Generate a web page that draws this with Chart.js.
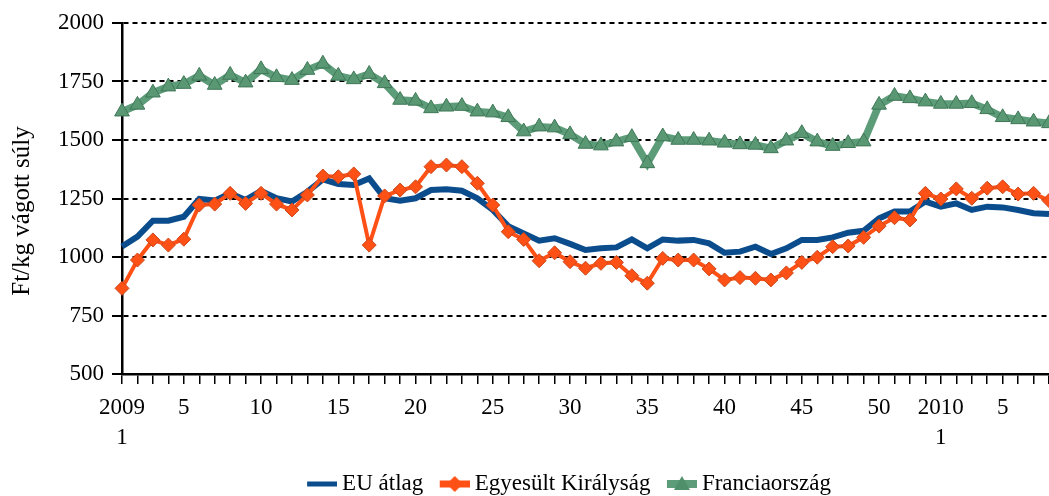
<!DOCTYPE html>
<html>
<head>
<meta charset="utf-8">
<script src="https://cdn.jsdelivr.net/npm/chart.js@4.4.1/dist/chart.umd.min.js"></script>
<style>
  html, body { margin: 0; padding: 0; background: #fff; }
  #wrap { width: 1049px; height: 496px; position: relative; }
</style>
</head>
<body>
<div id="wrap"><canvas id="chart"></canvas></div>
<script>
// hetek: 2009 1-53, 2010 1-8
const weeks = [
  1, 2, 3, 4, 5, 6, 7, 8, 9, 10, 11, 12, 13, 14, 15, 16, 17, 18, 19, 20,
  21, 22, 23, 24, 25, 26, 27, 28, 29, 30, 31, 32, 33, 34, 35, 36, 37, 38, 39, 40,
  41, 42, 43, 44, 45, 46, 47, 48, 49, 50, 51, 52, 53,
  1, 2, 3, 4, 5, 6, 7, 8
];
const years = [2009, 2010];

const euAtlag = [
  1045, 1087, 1155, 1155, 1172, 1248, 1241, 1272, 1244, 1283,
  1251, 1237, 1279, 1332, 1312, 1308, 1336, 1251, 1241, 1251,
  1286, 1289, 1283, 1251, 1201, 1132, 1101, 1070, 1080, 1056,
  1030, 1037, 1041, 1075, 1037, 1075, 1070, 1073, 1058, 1018,
  1023, 1044, 1013, 1037, 1073, 1073, 1084, 1104, 1112, 1165,
  1194, 1194, 1237,
  1215, 1229, 1201, 1215, 1212, 1201, 1187, 1184
];
const egyesultKiralysag = [
  866, 987, 1073, 1051, 1076, 1222, 1226, 1272, 1229, 1272,
  1226, 1201, 1265, 1346, 1343, 1355, 1051, 1261, 1286, 1300,
  1386, 1393, 1386, 1315, 1222, 1108, 1075, 984, 1018, 980,
  952, 973, 977, 920, 888, 994, 987, 987, 949, 902,
  912, 909, 902, 932, 977, 999, 1044, 1047, 1084, 1132,
  1168, 1158, 1272,
  1248, 1291, 1251, 1294, 1300, 1269, 1272, 1241
];
const franciaorszag = [
  1621, 1650, 1702, 1728, 1739, 1774, 1735, 1778, 1745, 1802,
  1768, 1756, 1799, 1826, 1774, 1759, 1782, 1742, 1671, 1667,
  1635, 1642, 1645, 1621, 1617, 1597, 1536, 1557, 1553, 1524,
  1483, 1476, 1493, 1512, 1400, 1515, 1500, 1500, 1497, 1488,
  1481, 1479, 1464, 1497, 1529, 1493, 1474, 1486, 1493, 1650,
  1688, 1678, 1664,
  1654, 1654, 1657, 1631, 1597, 1588, 1578, 1571
];

const FONT = "'Liberation Serif', 'Times New Roman', serif";
const BLUE = "#0b4c8c";
const ORANGE = "#ff5015";
const GREEN = "#5c9c78";

// legend marker: line + point on a small canvas (21px empty margin on the left)
function legendIcon(color, lineW, marker) {
  const m = 21;
  const c = document.createElement("canvas");
  c.width = m + 30;
  c.height = 20;
  const g = c.getContext("2d");
  g.fillStyle = color;
  g.fillRect(m, 10 - lineW / 2, 30, lineW);
  const cx = m + 15, cy = 10;
  if (marker === "diamond") {
    g.beginPath();
    g.moveTo(cx, cy - 8); g.lineTo(cx + 8, cy); g.lineTo(cx, cy + 8); g.lineTo(cx - 8, cy);
    g.closePath();
    g.fill();
  } else if (marker === "triangle") {
    g.beginPath();
    g.moveTo(cx, cy - 8); g.lineTo(cx + 8, cy + 6); g.lineTo(cx - 8, cy + 6);
    g.closePath();
    g.fillStyle = "#4f8f6a";
    g.fill();
  }
  return c;
}

const icons = [
  legendIcon(BLUE, 5, null),
  legendIcon(ORANGE, 7, "diamond"),
  legendIcon(GREEN, 8, "triangle")
];

function tickText(index) {
  const w = weeks[index];
  if (w === 1) {
    const yi = weeks.slice(0, index + 1).filter(v => v === 1).length - 1;
    return [String(years[yi]), "1"];
  }
  return w % 5 === 0 ? String(w) : "";
}

// put the legend where the original has it (centre x 569, text centre y 484)
const legendPlace = {
  id: "legendPlace",
  afterLayout(chart) {
    const l = chart.legend;
    const pad = l.options.labels.padding;
    const lw = l.lineWidths[0];
    const startX = (l.left + pad + l.right - lw) / 2;
    const visCenter = startX + (14.5 + lw - pad) / 2;
    const dx = 569 - visCenter;
    l.left += dx; l.right += dx;
    const dy = 484 - (l.top + pad + l.options.labels.font.size / 2);
    l.top += dy; l.bottom += dy;
  }
};

new Chart(document.getElementById("chart"), {
  type: "line",
  data: {
    labels: weeks.map(String),
    datasets: [
      {
        label: "EU átlag",
        data: euAtlag,
        borderColor: BLUE,
        backgroundColor: BLUE,
        borderWidth: 6,
        pointRadius: 0,
        order: 1
      },
      {
        label: "Egyesült Királyság",
        data: egyesultKiralysag,
        borderColor: ORANGE,
        backgroundColor: ORANGE,
        borderWidth: 4,
        pointStyle: "rectRot",
        pointRadius: 7,
        pointBackgroundColor: ORANGE,
        pointBorderColor: "#c9481c",
        pointBorderWidth: 1,
        order: 0
      },
      {
        label: "Franciaország",
        data: franciaorszag,
        borderColor: GREEN,
        backgroundColor: GREEN,
        borderWidth: 7.5,
        pointStyle: "triangle",
        pointRadius: 8.5,
        pointBackgroundColor: "#5a9874",
        pointBorderColor: "#3f7757",
        pointBorderWidth: 1,
        order: 2
      }
    ]
  },
  plugins: [legendPlace],
  options: {
    responsive: true,
    maintainAspectRatio: false,
    animation: false,
    layout: { autoPadding: false, padding: { top: 23, right: 0, bottom: 0, left: 0 } },
    elements: { line: { tension: 0 } },
    scales: {
      x: {
        offset: false,
        afterFit: s => { s.height = 87; s.paddingLeft = 0; s.paddingRight = 0; },
        grid: {
          display: true,
          drawOnChartArea: false,
          drawTicks: true,
          tickLength: 10,
          color: "#000",
          lineWidth: 1.5
        },
        border: { display: true, color: "#000", width: 2.5 },
        ticks: {
          autoSkip: false,
          maxRotation: 0,
          minRotation: 0,
          padding: 9,
          color: "#000",
          font: { family: FONT, size: 23, lineHeight: 1.3 },
          callback: (value, index) => tickText(index)
        }
      },
      y: {
        min: 500,
        max: 2000,
        afterFit: s => { s.width = 122; },
        grid: {
          color: "#000",
          lineWidth: 2,
          tickLength: 10,
          tickWidth: 2,
          tickColor: "#000"
        },
        border: { display: true, color: "#000", width: 2.5, dash: [5, 4] },
        ticks: {
          stepSize: 250,
          padding: 8,
          color: "#000",
          font: { family: FONT, size: 23 },
          callback: v => String(v)
        },
        title: {
          display: true,
          // trailing spaces move the visible text down a bit, like the original
          text: "Ft/kg vágott súly    ",
          color: "#000",
          padding: { top: 7, bottom: 0 },
          font: { family: FONT, size: 25 }
        }
      }
    },
    plugins: {
      legend: {
        position: "bottom",
        labels: {
          usePointStyle: true,
          pointStyleWidth: 38,
          padding: 2,
          color: "#000",
          font: { family: FONT, size: 23 },
          sort: (a, b) => a.datasetIndex - b.datasetIndex,
          generateLabels: chart => {
            const items = Chart.defaults.plugins.legend.labels.generateLabels(chart);
            return items.map(it => Object.assign(it, { pointStyle: icons[it.datasetIndex], lineWidth: 0 }));
          }
        }
      },
      tooltip: { enabled: false }
    }
  }
});
</script>
</body>
</html>
